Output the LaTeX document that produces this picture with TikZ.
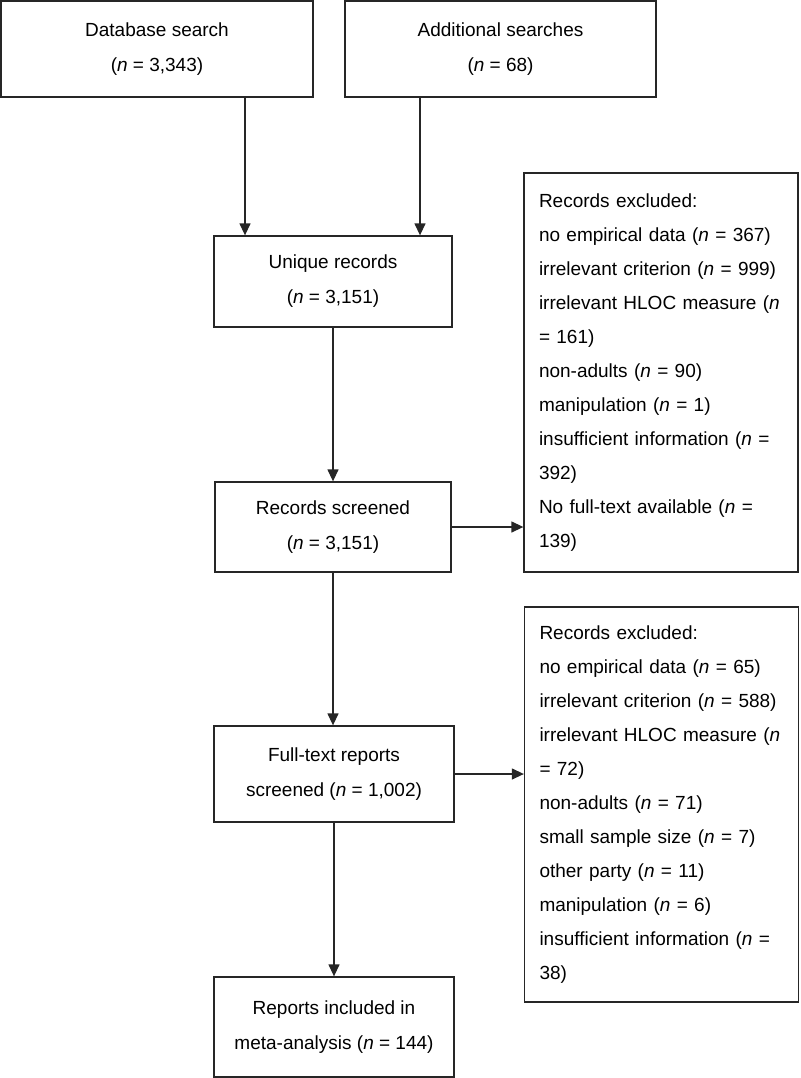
\documentclass[tikz,border=0pt]{standalone}
\usepackage{fontspec}
\setmainfont{Liberation Sans}
\usetikzlibrary{arrows.meta,positioning,calc}

\begin{document}
\begin{tikzpicture}[
  x=1pt, y=-1pt,
  stage/.style={rectangle, draw=black!85, line width=1.3pt, align=center, inner sep=0pt, font=\fontsize{19}{35}\selectfont},
  excluded/.style={rectangle, draw=black!85, line width=1.3pt, align=left, text width=244pt, inner xsep=15pt, inner ysep=0pt, font=\fontsize{19}{34}\selectfont},
  flow/.style={-{Triangle[length=12pt, width=11pt]}, line width=1.3pt, black!85}
]
  \useasboundingbox (0,0) rectangle (800,1078);

  \node[stage, minimum width=312pt, minimum height=96pt] (dbsearch) at (157,49) {Database search\\(\textit{n} = 3,343)};
  \node[stage, minimum width=311pt, minimum height=96pt] (addsearch) at (500.5,49) {Additional searches\\(\textit{n} = 68)};
  \node[stage, minimum width=238pt, minimum height=91pt] (unique) at (333,281.5) {Unique records\\(\textit{n} = 3,151)};
  \node[stage, minimum width=236pt, minimum height=90pt] (screened) at (333,527) {Records screened\\(\textit{n} = 3,151)};
  \node[stage, minimum width=240pt, minimum height=96pt] (fulltext) at (334,774) {Full-text reports\\screened (\textit{n} = 1,002)};
  \node[stage, minimum width=240pt, minimum height=100pt] (included) at (334,1027) {Reports included in\\meta-analysis (\textit{n} = 144)};

  \node[excluded, minimum height=399pt] (excl1) at (661,372.5) {Records excluded:\\
    no empirical data (\textit{n} = 367)\\
    irrelevant criterion (\textit{n} = 999)\\
    irrelevant HLOC measure (\textit{n}\\
    = 161)\\
    non-adults (\textit{n} = 90)\\
    manipulation (\textit{n} = 1)\\
    insufficient information (\textit{n} =\\
    392)\\
    No full-text available (\textit{n} =\\
    139)};
  \node[excluded, minimum height=395pt] (excl2) at (661.5,804.5) {Records excluded:\\
    no empirical data (\textit{n} = 65)\\
    irrelevant criterion (\textit{n} = 588)\\
    irrelevant HLOC measure (\textit{n}\\
    = 72)\\
    non-adults (\textit{n} = 71)\\
    small sample size (\textit{n} = 7)\\
    other party (\textit{n} = 11)\\
    manipulation (\textit{n} = 6)\\
    insufficient information (\textit{n} =\\
    38)};

  \coordinate (dbdrop) at (245,0);
  \coordinate (adddrop) at (420,0);

  \draw[flow] (dbsearch.south -| dbdrop) -- (unique.north -| dbdrop);
  \draw[flow] (addsearch.south -| adddrop) -- (unique.north -| adddrop);
  \draw[flow] (unique.south) -- (unique.south |- screened.north);
  \draw[flow] (screened.east) -- (screened.east -| excl1.west);
  \draw[flow] (screened.south) -- (screened.south |- fulltext.north);
  \draw[flow] (fulltext.east) -- (fulltext.east -| excl2.west);
  \draw[flow] (fulltext.south) -- (fulltext.south |- included.north);
\end{tikzpicture}
\end{document}
